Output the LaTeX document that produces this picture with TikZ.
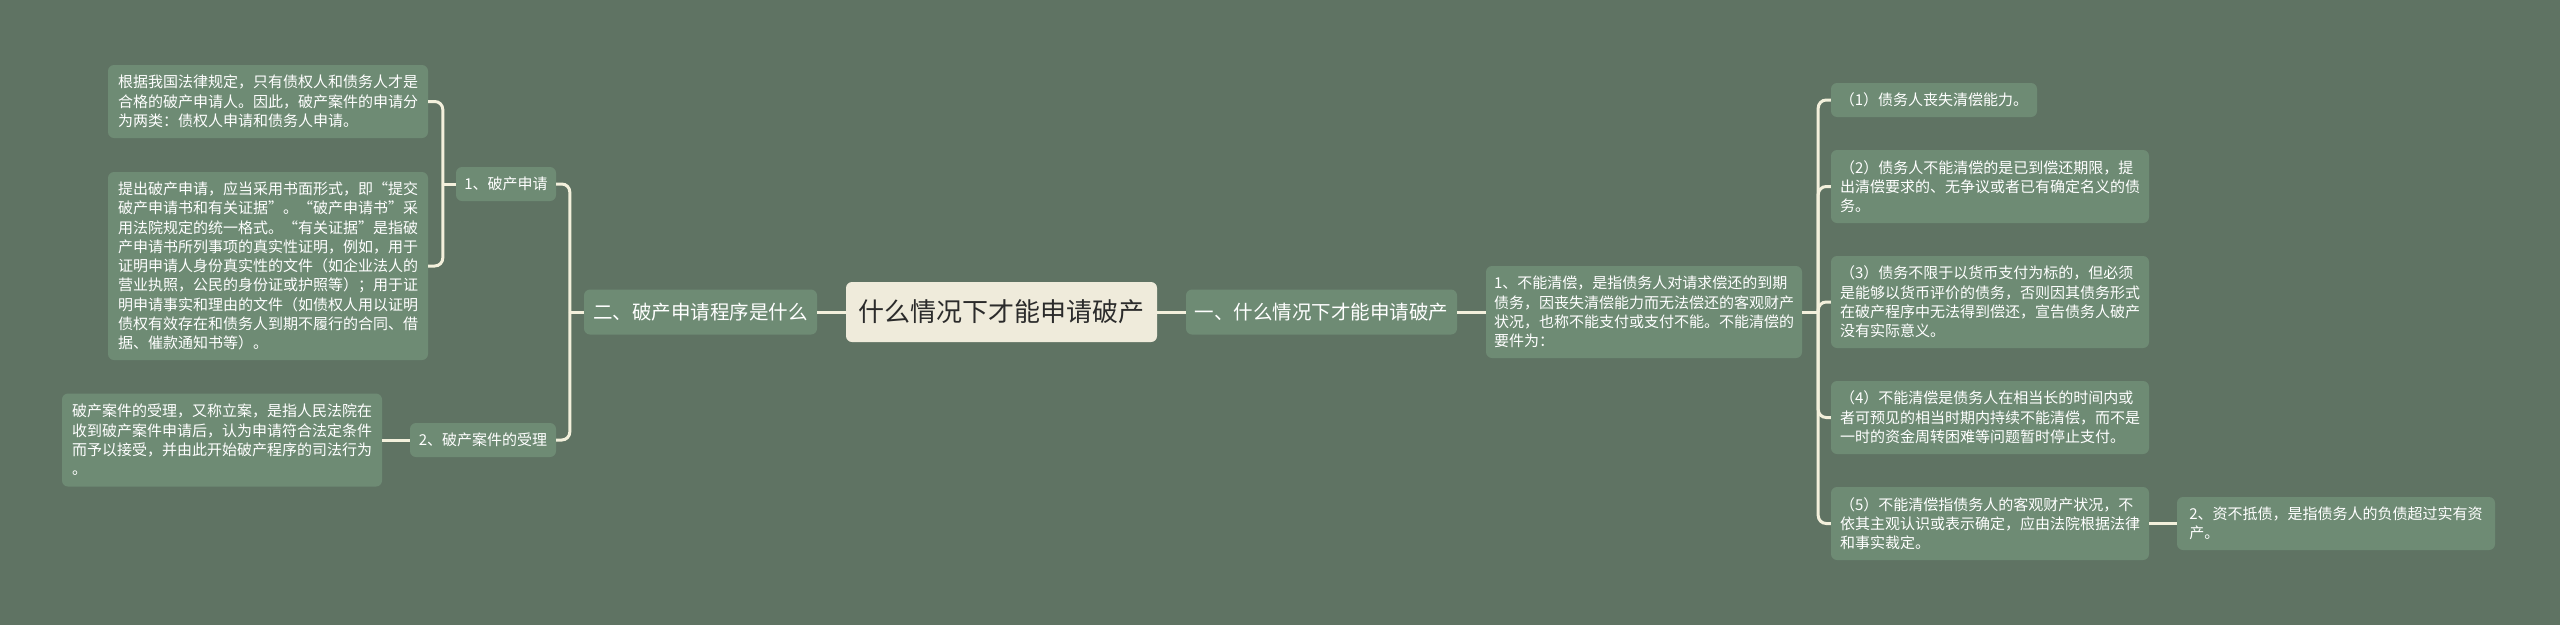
\documentclass[tikz,border=0pt]{standalone}
\usepackage{fontspec}
\setmainfont{Noto Sans CJK SC}
\usetikzlibrary{calc}
\definecolor{bg}{HTML}{5F7363}
\definecolor{nodefill}{HTML}{6E8B74}
\definecolor{linec}{HTML}{F3F0DC}
\definecolor{centerfill}{HTML}{EFEBDB}
\definecolor{centertext}{HTML}{2B2B2B}
\begin{document}
\begin{tikzpicture}[x=1pt,y=-1pt,
  box/.style={fill=nodefill, rounded corners=6pt, text=white, align=left, inner sep=0pt,
    font=\fontsize{15}{19.3}\selectfont},
  mainbox/.style={box, font=\fontsize{19.5}{24}\selectfont},
  centerbox/.style={fill=centerfill, rounded corners=6pt, text=centertext, inner sep=0pt,
    font=\fontsize{26}{30}\selectfont},
  conn/.style={draw=linec, line width=3pt, rounded corners=8pt}]
\fill[bg] (0,0) rectangle (2560,625);
\useasboundingbox (0,0) rectangle (2560,625);

% center and main branches
\node[centerbox, minimum width=311pt, minimum height=60pt] (C0) at (1001.5,312) {什么情况下才能申请破产};
\node[mainbox, minimum width=233pt, minimum height=45pt] (L0) at (700.5,312) {二、破产申请程序是什么};
\node[mainbox, minimum width=271pt, minimum height=45pt] (R0) at (1321.5,312) {一、什么情况下才能申请破产};

% left side
\node[box, minimum width=100pt, minimum height=34pt] (L1) at (506,184) {1、破产申请};
\node[box, minimum width=146pt, minimum height=34pt] (L2) at (483,440) {2、破产案件的受理};
\node[box, minimum width=320pt, minimum height=73pt] (LA) at (268,101.5) {根据我国法律规定，只有债权人和债务人才是\\合格的破产申请人。因此，破产案件的申请分\\为两类：债权人申请和债务人申请。};
\node[box, minimum width=320pt, minimum height=188pt] (LB) at (268,266) {提出破产申请，应当采用书面形式，即“提交\\破产申请书和有关证据”。“破产申请书”采\\用法院规定的统一格式。“有关证据”是指破\\产申请书所列事项的真实性证明，例如，用于\\证明申请人身份真实性的文件（如企业法人的\\营业执照，公民的身份证或护照等）；用于证\\明申请事实和理由的文件（如债权人用以证明\\债权有效存在和债务人到期不履行的合同、借\\据、催款通知书等）。};
\node[box, minimum width=320pt, minimum height=93pt] (LC) at (222,440) {破产案件的受理，又称立案，是指人民法院在\\收到破产案件申请后，认为申请符合法定条件\\而予以接受，并由此开始破产程序的司法行为\\。};

% right side
\node[box, minimum width=316pt, minimum height=92pt] (R1) at (1644,312) {1、不能清偿，是指债务人对请求偿还的到期\\债务，因丧失清偿能力而无法偿还的客观财产\\状况，也称不能支付或支付不能。不能清偿的\\要件为：};
\node[box, minimum width=206pt, minimum height=34pt] (P1) at (1934,100) {（1）债务人丧失清偿能力。};
\node[box, minimum width=318pt, minimum height=73pt] (P2) at (1990,186.5) {（2）债务人不能清偿的是已到偿还期限，提\\出清偿要求的、无争议或者已有确定名义的债\\务。};
\node[box, minimum width=318pt, minimum height=92pt] (P3) at (1990,302) {（3）债务不限于以货币支付为标的，但必须\\是能够以货币评价的债务，否则因其债务形式\\在破产程序中无法得到偿还，宣告债务人破产\\没有实际意义。};
\node[box, minimum width=318pt, minimum height=73pt] (P4) at (1990,417.5) {（4）不能清偿是债务人在相当长的时间内或\\者可预见的相当时期内持续不能清偿，而不是\\一时的资金周转困难等问题暂时停止支付。};
\node[box, minimum width=318pt, minimum height=73pt] (P5) at (1990,523.5) {（5）不能清偿指债务人的客观财产状况，不\\依其主观认识或表示确定，应由法院根据法律\\和事实裁定。};
\node[box, minimum width=318pt, minimum height=53pt] (Z2) at (2336,523.5) {2、资不抵债，是指债务人的负债超过实有资\\产。};

% connectors
\draw[conn] (C0.west) -- (L0.east);
\draw[conn] (C0.east) -- (R0.west);
\draw[conn] (R0.east) -- (R1.west);

\coordinate (jL0) at ($(L0.west)+(-14,0)$);
\draw[conn] (L0.west) -- (jL0);
\draw[conn] (jL0) |- (L1.east);
\draw[conn] (jL0) |- (L2.east);

\coordinate (jL1) at ($(L1.west)+(-13,0)$);
\draw[conn] (L1.west) -- (jL1);
\draw[conn] (jL1) |- (LA.east);
\draw[conn] (jL1) |- (LB.east);

\draw[conn] (L2.west) -- (LC.east);

\coordinate (jR1) at ($(R1.east)+(16,0)$);
\draw[conn] (R1.east) -- (jR1);
\draw[conn] (jR1) |- (P1.west);
\draw[conn] (jR1) |- (P2.west);
\draw[conn] (jR1) |- (P3.west);
\draw[conn] (jR1) |- (P4.west);
\draw[conn] (jR1) |- (P5.west);

\draw[conn] (P5.east) -- (Z2.west);
\end{tikzpicture}
\end{document}
